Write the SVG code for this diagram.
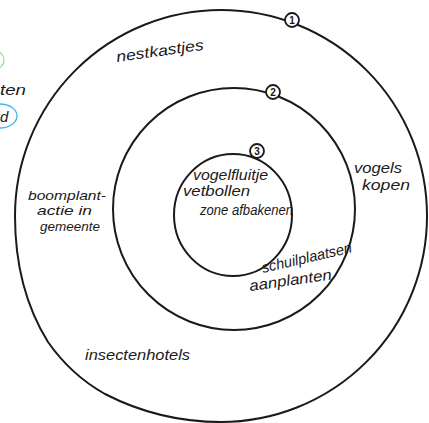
<svg xmlns="http://www.w3.org/2000/svg" width="429" height="423" viewBox="0 0 429 423">
<style>
.ring{fill:none;stroke:#1a1a1a;stroke-width:2;stroke-linecap:round}
.mk{fill:#fff;stroke:#1a1a1a;stroke-width:1.8}
.mt{font-family:"Liberation Sans",Arial,sans-serif;font-size:10px;font-weight:bold;fill:#1a1a1a;text-anchor:middle}
.t{font-family:"Liberation Sans",Arial,sans-serif;font-size:15px;font-style:italic;fill:#1a1a1a}
.s{font-size:13px}
</style>
<rect width="429" height="423" fill="#fff"/>
<g id="edge-notes">
<circle cx="-5" cy="60" r="9" fill="none" stroke="#8fe08f" stroke-width="1.2"/>
<text class="t" x="0" y="95" textLength="26" lengthAdjust="spacingAndGlyphs">ten</text>
<ellipse cx="0" cy="116" rx="17" ry="12" fill="none" stroke="#3fb7e6" stroke-width="1.3"/>
<text class="t" x="0" y="122">d</text>
</g>
<g id="ring1">
<path class="ring" d="M221,10 A206,206 0 0 1 427,216 A206,206 0 0 1 221,422 C180,422 140,412 105,394 C80,380 62,362 48,342 C25,305 15,262 15,216 A206,206 0 0 1 221,10 Z"/>
<circle class="mk" cx="292" cy="20" r="7"/>
<text class="mt" x="292" y="24">1</text>
<text class="t" transform="translate(117,62) rotate(-8)" textLength="88" lengthAdjust="spacingAndGlyphs">nestkastjes</text>
<text class="t s" x="28" y="200" textLength="78" lengthAdjust="spacingAndGlyphs">boomplant-</text>
<text class="t s" x="37" y="215" textLength="55" lengthAdjust="spacingAndGlyphs">actie in</text>
<text class="t s" x="40" y="231" textLength="60" lengthAdjust="spacingAndGlyphs">gemeente</text>
<text class="t" x="354" y="173" textLength="48" lengthAdjust="spacingAndGlyphs">vogels</text>
<text class="t" x="362" y="190" textLength="48" lengthAdjust="spacingAndGlyphs">kopen</text>
<text class="t" x="85" y="360" textLength="105" lengthAdjust="spacingAndGlyphs">insectenhotels</text>
</g>
<g id="ring2">
<circle class="ring" cx="234" cy="209" r="121"/>
<circle class="mk" cx="273" cy="92" r="7"/>
<text class="mt" x="273" y="96">2</text>
<text class="t" transform="translate(263,273) rotate(-13)" textLength="92" lengthAdjust="spacingAndGlyphs">schuilplaatsen</text>
<text class="t" transform="translate(250,291) rotate(-8)" textLength="83" lengthAdjust="spacingAndGlyphs">aanplanten</text>
</g>
<g id="ring3">
<ellipse class="ring" cx="233" cy="215" rx="59" ry="61"/>
<circle class="mk" cx="257" cy="151" r="7"/>
<text class="mt" x="257" y="155">3</text>
<text class="t" x="193" y="180" textLength="75" lengthAdjust="spacingAndGlyphs">vogelfluitje</text>
<text class="t" x="183" y="196" textLength="67" lengthAdjust="spacingAndGlyphs">vetbollen</text>
<text class="t" x="200" y="215" textLength="93" lengthAdjust="spacingAndGlyphs">zone afbakenen</text>
</g>
</svg>
